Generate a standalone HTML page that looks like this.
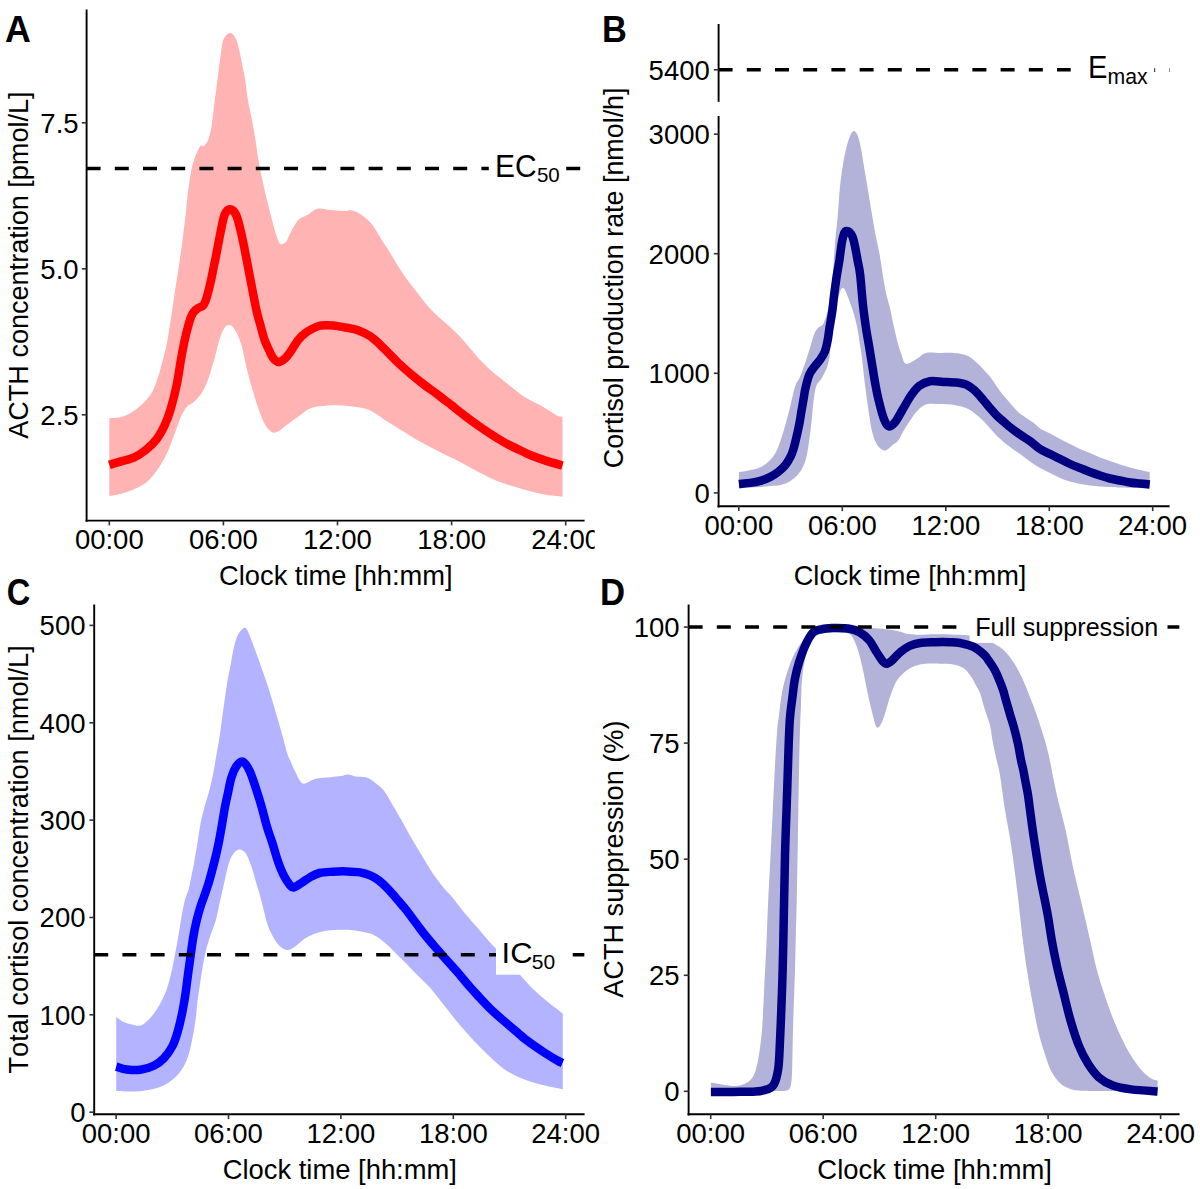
<!DOCTYPE html><html><head><meta charset="utf-8"><style>html,body{margin:0;padding:0;background:#fff;width:1200px;height:1189px;overflow:hidden}svg{display:block}text{font-family:"Liberation Sans",sans-serif;fill:#000;font-kerning:none}</style></head><body>
<svg width="1200" height="1189" viewBox="0 0 1200 1189">
<rect width="1200" height="1189" fill="#fff"/>
<clipPath id="clipA"><rect x="86.6" y="10.0" width="498.0" height="510.6"/></clipPath>
<g clip-path="url(#clipA)">
<path d="M109.3,418.2 C111.1,418.0 116.7,418.0 120.2,417.2 C123.7,416.4 126.9,415.1 130.3,413.2 C133.7,411.3 137.4,408.4 140.4,405.8 C143.4,403.2 146.1,400.7 148.4,397.6 C150.8,394.5 152.5,391.8 154.5,387.0 C156.5,382.2 158.5,375.9 160.5,368.8 C162.5,361.7 164.9,352.7 166.6,344.6 C168.3,336.5 169.4,327.8 170.6,320.4 C171.8,313.0 172.7,306.9 173.7,300.2 C174.7,293.5 175.5,287.7 176.7,280.0 C177.9,272.3 179.6,261.5 180.7,253.8 C181.8,246.1 182.5,240.3 183.3,233.6 C184.2,226.9 185.1,219.7 185.8,213.5 C186.5,207.3 186.7,203.3 187.5,196.6 C188.3,189.9 189.7,179.3 190.8,173.1 C191.9,166.9 193.1,163.2 194.2,159.6 C195.3,155.9 196.5,153.6 197.6,151.2 C198.7,148.8 199.9,146.1 200.9,145.3 C201.9,144.5 202.3,146.9 203.4,146.2 C204.5,145.5 206.4,143.9 207.7,141.1 C209.0,138.3 210.0,134.4 211.0,129.3 C212.0,124.3 212.7,117.2 213.5,110.8 C214.3,104.3 215.2,97.3 216.1,90.6 C216.9,83.9 217.8,76.9 218.6,70.5 C219.4,64.1 220.3,57.2 221.1,52.0 C221.9,46.8 222.2,42.4 223.6,39.3 C225.0,36.1 227.5,33.4 229.5,33.1 C231.5,32.8 233.7,34.6 235.4,37.7 C237.1,40.9 238.1,45.4 239.6,52.0 C241.1,58.6 243.3,69.1 244.7,77.2 C246.1,85.3 246.8,93.4 248.0,100.7 C249.2,108.0 250.9,114.2 252.2,120.9 C253.5,127.6 254.5,134.1 255.6,141.1 C256.7,148.1 257.8,156.6 258.9,163.0 C260.0,169.4 261.0,173.9 262.3,179.8 C263.6,185.7 264.9,191.9 266.5,198.3 C268.1,204.8 270.1,212.6 271.6,218.5 C273.2,224.4 274.4,229.4 275.8,233.6 C277.2,237.8 278.3,242.3 280.0,243.7 C281.7,245.1 284.2,243.7 285.9,242.0 C287.6,240.3 288.8,236.2 290.1,233.6 C291.5,231.0 292.4,228.8 294.0,226.3 C295.6,223.9 297.1,220.8 299.4,218.9 C301.6,217.0 304.4,216.6 307.5,214.9 C310.6,213.2 314.5,209.4 318.3,208.6 C322.1,207.8 325.9,209.5 330.4,209.9 C334.9,210.3 341.8,210.9 345.2,210.9 C348.6,210.9 348.4,209.9 350.6,210.2 C352.8,210.5 355.9,211.4 358.6,212.9 C361.3,214.4 364.2,216.7 366.7,218.9 C369.2,221.1 370.9,222.8 373.4,226.3 C375.9,229.8 378.8,235.5 381.5,239.8 C384.2,244.1 386.9,247.6 389.6,251.9 C392.3,256.2 394.8,260.8 397.7,265.4 C400.6,270.0 403.7,274.8 407.1,279.5 C410.5,284.2 414.3,289.0 417.9,293.6 C421.5,298.2 425.2,303.3 428.6,307.1 C432.0,310.9 434.3,313.1 438.0,316.5 C441.7,319.9 446.2,323.4 450.6,327.5 C455.0,331.6 459.6,336.2 464.1,341.2 C468.6,346.1 473.1,352.3 477.6,357.2 C482.1,362.1 486.0,366.1 491.0,370.6 C496.0,375.1 502.5,379.9 507.8,384.1 C513.1,388.3 517.7,392.4 523.0,395.9 C528.3,399.4 534.2,401.9 539.8,405.1 C545.4,408.3 552.8,413.2 556.6,415.2 C560.4,417.2 561.5,416.6 562.5,416.9 L562.5,496.8 C559.3,496.4 549.8,495.6 543.2,494.3 C536.6,493.0 530.0,491.2 523.0,489.2 C516.0,487.2 508.1,485.1 501.1,482.5 C494.1,479.9 487.9,476.8 480.9,473.3 C473.9,469.8 466.7,465.4 459.1,461.5 C451.5,457.6 443.1,453.6 435.5,449.7 C427.9,445.8 420.6,442.0 413.6,437.9 C406.6,433.8 398.1,428.1 393.5,425.3 C388.9,422.5 388.9,422.7 386.0,420.8 C383.1,418.9 379.3,415.8 375.9,413.8 C372.5,411.8 370.0,410.0 365.8,408.7 C361.6,407.4 355.8,406.8 350.7,406.2 C345.6,405.6 340.6,405.2 335.5,405.2 C330.4,405.2 324.6,405.7 320.4,406.2 C316.2,406.7 313.7,406.7 310.3,408.2 C306.9,409.7 303.8,412.5 300.0,415.2 C296.2,417.9 291.1,421.8 287.7,424.3 C284.3,426.8 282.1,429.0 279.6,430.4 C277.1,431.8 275.0,433.2 272.6,432.4 C270.2,431.5 267.7,428.8 265.5,425.3 C263.3,421.8 261.4,416.6 259.4,411.2 C257.4,405.8 255.4,399.7 253.4,393.0 C251.4,386.3 249.3,378.9 247.3,370.8 C245.3,362.7 243.5,351.7 241.3,344.6 C239.1,337.5 236.6,331.6 234.2,328.4 C231.8,325.2 229.3,324.4 227.1,325.4 C224.9,326.4 223.1,329.3 221.1,334.5 C219.1,339.7 217.0,349.6 215.0,356.7 C213.0,363.8 211.0,371.2 209.0,376.9 C207.0,382.6 205.2,387.0 202.9,391.0 C200.6,395.0 197.6,398.4 194.9,401.1 C192.2,403.8 189.2,404.4 186.8,407.1 C184.4,409.8 182.7,412.8 180.7,417.2 C178.7,421.6 176.7,428.0 174.7,433.4 C172.7,438.8 170.6,444.8 168.6,449.5 C166.6,454.2 164.9,457.6 162.6,461.6 C160.2,465.6 157.5,470.0 154.5,473.7 C151.5,477.4 148.1,481.1 144.4,483.8 C140.7,486.5 136.3,488.2 132.3,489.9 C128.3,491.6 124.0,492.9 120.2,493.9 C116.4,494.9 111.1,495.6 109.3,496.0 Z" fill="#FFB3B3" stroke="none"/>
<rect x="489.0" y="150.0" width="77.0" height="37.0" fill="#fff"/>
<path d="M109.3,464.9 C111.1,464.3 116.0,462.9 120.2,461.6 C124.4,460.3 129.9,459.3 134.3,457.3 C138.7,455.3 142.7,452.5 146.4,449.5 C150.1,446.5 153.5,443.4 156.5,439.4 C159.5,435.4 162.2,430.3 164.6,425.3 C166.9,420.3 168.6,415.9 170.6,409.2 C172.6,402.5 175.0,393.2 176.7,385.0 C178.4,376.8 179.6,367.4 180.9,360.0 C182.2,352.6 183.4,346.1 184.6,340.6 C185.8,335.1 186.8,331.0 187.9,327.1 C189.0,323.2 190.0,319.6 191.0,317.0 C192.0,314.4 192.7,313.2 193.8,311.8 C194.9,310.4 196.1,309.3 197.7,308.3 C199.2,307.3 201.8,307.0 203.1,305.6 C204.4,304.2 205.0,302.2 205.8,300.2 C206.6,298.2 206.9,296.9 207.8,293.5 C208.7,290.1 210.2,284.2 211.1,280.0 C212.0,275.8 212.7,272.1 213.5,268.0 C214.3,263.9 215.0,261.2 216.1,255.5 C217.2,249.8 218.9,240.3 220.3,233.6 C221.7,226.9 222.9,219.1 224.5,215.1 C226.1,211.1 228.0,209.3 229.9,209.3 C231.8,209.3 234.3,211.1 236.2,215.1 C238.1,219.1 239.8,227.1 241.3,233.6 C242.9,240.1 244.1,246.8 245.5,253.8 C246.9,260.8 247.9,266.3 249.7,275.7 C251.5,285.1 254.6,301.8 256.4,310.0 C258.2,318.2 259.0,320.1 260.4,325.1 C261.8,330.2 263.2,336.1 264.7,340.3 C266.2,344.5 268.1,347.9 269.2,350.4 C270.3,352.9 270.6,353.8 271.5,355.4 C272.4,357.0 273.5,358.9 274.8,360.0 C276.1,361.1 277.5,362.3 279.3,362.0 C281.1,361.7 283.5,359.9 285.4,358.2 C287.2,356.5 288.7,354.3 290.4,351.9 C292.1,349.5 294.1,345.9 295.5,343.8 C296.9,341.8 296.9,341.4 298.5,339.6 C300.1,337.8 303.0,334.9 305.2,333.2 C307.4,331.4 309.6,330.3 311.9,329.1 C314.1,327.9 316.5,326.6 318.7,326.0 C320.9,325.4 322.6,325.3 325.0,325.2 C327.4,325.1 329.9,325.1 333.0,325.4 C336.1,325.7 339.8,326.4 343.8,327.2 C347.9,327.9 352.8,328.3 357.3,329.9 C361.8,331.5 366.2,333.5 370.7,336.6 C375.2,339.7 379.7,344.4 384.2,348.7 C388.7,353.0 393.1,357.9 397.6,362.2 C402.1,366.5 406.6,370.5 411.1,374.3 C415.6,378.1 420.0,381.6 424.5,385.0 C429.0,388.4 433.5,391.4 438.0,394.8 C442.5,398.2 446.9,401.7 451.4,405.2 C455.9,408.7 460.4,412.4 464.9,415.8 C469.4,419.2 473.8,422.4 478.3,425.6 C482.8,428.8 487.3,431.9 491.8,434.8 C496.3,437.7 500.7,440.4 505.2,442.9 C509.7,445.4 514.2,447.5 518.7,449.6 C523.2,451.8 527.6,454.0 532.1,455.8 C536.6,457.6 540.5,459.0 545.6,460.6 C550.7,462.2 559.7,464.7 562.5,465.5" fill="none" stroke="#FF0000" stroke-width="8.5" stroke-linejoin="round" stroke-linecap="butt"/>
<line x1="86.6" y1="168.4" x2="488.8" y2="168.4" stroke="#000" stroke-width="3.5" stroke-dasharray="14 14.2"/>
<line x1="566.2" y1="168.4" x2="584.6" y2="168.4" stroke="#000" stroke-width="3.5" stroke-dasharray="14 14.2"/>
<text x="495.04" y="177.00" font-size="31.25" textLength="41.60" lengthAdjust="spacingAndGlyphs">EC</text>
<text x="536.98" y="182.30" font-size="20.80" textLength="22.82" lengthAdjust="spacingAndGlyphs">50</text>
</g>
<line x1="86.6" y1="9.5" x2="86.6" y2="521.7" stroke="#000" stroke-width="1.9"/>
<line x1="85.6" y1="520.6" x2="584.6" y2="520.6" stroke="#000" stroke-width="1.9"/>
<line x1="81.8" y1="122.8" x2="86.6" y2="122.8" stroke="#333" stroke-width="1.6"/>
<text x="78.6" y="132.7" font-size="27.5" text-anchor="end" >7.5</text>
<line x1="81.8" y1="268.8" x2="86.6" y2="268.8" stroke="#333" stroke-width="1.6"/>
<text x="78.6" y="278.7" font-size="27.5" text-anchor="end" >5.0</text>
<line x1="81.8" y1="414.8" x2="86.6" y2="414.8" stroke="#333" stroke-width="1.6"/>
<text x="78.6" y="424.7" font-size="27.5" text-anchor="end" >2.5</text>
<clipPath id="xlA"><rect x="0" y="0" width="594.7" height="1189"/></clipPath><g clip-path="url(#xlA)">
<line x1="109.3" y1="520.6" x2="109.3" y2="525.4" stroke="#333" stroke-width="1.6"/>
<text x="109.3" y="549.0" font-size="27.5" text-anchor="middle" >00:00</text>
<line x1="223.4" y1="520.6" x2="223.4" y2="525.4" stroke="#333" stroke-width="1.6"/>
<text x="223.4" y="549.0" font-size="27.5" text-anchor="middle" >06:00</text>
<line x1="337.5" y1="520.6" x2="337.5" y2="525.4" stroke="#333" stroke-width="1.6"/>
<text x="337.5" y="549.0" font-size="27.5" text-anchor="middle" >12:00</text>
<line x1="451.6" y1="520.6" x2="451.6" y2="525.4" stroke="#333" stroke-width="1.6"/>
<text x="451.6" y="549.0" font-size="27.5" text-anchor="middle" >18:00</text>
<line x1="565.7" y1="520.6" x2="565.7" y2="525.4" stroke="#333" stroke-width="1.6"/>
<text x="565.7" y="549.0" font-size="27.5" text-anchor="middle" >24:00</text>
</g>
<clipPath id="clipB"><rect x="718.6" y="20.0" width="451.0" height="486.3"/></clipPath>
<g clip-path="url(#clipB)">
<path d="M738.9,472.3 C739.9,472.1 742.5,471.8 745.1,471.3 C747.7,470.8 751.3,470.1 754.2,469.3 C757.1,468.5 759.9,467.6 762.3,466.3 C764.6,465.0 766.3,463.6 768.3,461.7 C770.3,459.8 772.7,457.2 774.4,454.7 C776.1,452.2 777.0,450.0 778.4,446.6 C779.8,443.2 781.2,438.5 782.5,434.5 C783.8,430.5 784.8,426.6 786.0,422.4 C787.2,418.2 788.4,413.7 789.5,409.3 C790.6,404.9 791.6,400.2 792.6,396.1 C793.6,392.1 794.4,388.2 795.6,385.0 C796.8,381.8 798.6,380.2 800.0,377.1 C801.4,374.0 802.7,370.1 804.0,366.3 C805.3,362.5 806.6,358.5 808.0,354.2 C809.4,349.9 811.0,344.3 812.1,340.7 C813.2,337.1 813.7,334.9 814.8,332.7 C815.9,330.5 817.4,328.6 818.8,327.3 C820.1,326.0 821.5,326.9 822.9,324.6 C824.2,322.4 825.8,317.8 826.9,313.8 C828.0,309.8 828.7,306.0 829.6,300.4 C830.5,294.8 831.5,290.0 832.4,280.1 C833.3,270.2 834.3,252.1 835.2,241.1 C836.1,230.1 837.1,223.2 837.9,214.2 C838.7,205.2 839.1,195.2 839.9,187.3 C840.7,179.5 841.6,173.4 842.6,167.1 C843.6,160.8 844.7,154.8 845.9,149.6 C847.1,144.4 848.7,139.2 850.0,136.1 C851.3,133.0 852.5,131.2 853.7,131.0 C854.9,130.8 856.2,132.2 857.4,134.8 C858.6,137.5 859.6,141.5 860.7,146.9 C861.8,152.3 863.0,160.4 864.1,167.1 C865.2,173.8 866.3,179.9 867.5,187.3 C868.7,194.7 870.2,203.7 871.5,211.5 C872.8,219.3 874.1,227.2 875.5,234.4 C876.9,241.6 878.2,247.0 879.6,254.6 C881.0,262.2 882.5,273.3 883.6,280.0 C884.8,286.7 885.4,290.3 886.5,295.0 C887.6,299.7 888.8,303.0 890.0,308.0 C891.2,313.0 892.3,319.7 893.5,325.0 C894.7,330.3 895.8,335.3 897.0,340.0 C898.2,344.7 899.5,349.1 901.0,353.0 C902.5,356.9 903.2,362.7 905.8,363.7 C908.4,364.7 913.1,360.8 916.5,359.0 C919.9,357.2 921.9,354.0 925.9,353.0 C929.9,352.0 936.0,353.0 940.7,353.0 C945.4,353.0 949.9,352.6 954.2,353.0 C958.5,353.4 962.7,353.9 966.3,355.3 C969.9,356.8 972.8,359.3 975.7,361.7 C978.6,364.1 981.1,366.9 983.8,369.8 C986.5,372.7 989.1,375.6 991.9,379.2 C994.6,382.8 997.8,388.0 1000.3,391.4 C1002.8,394.8 1004.2,396.2 1007.0,399.5 C1009.8,402.8 1014.3,408.2 1017.1,411.0 C1019.9,413.8 1021.0,414.3 1023.8,416.3 C1026.6,418.3 1031.2,421.1 1033.9,423.1 C1036.6,425.1 1037.3,426.8 1040.0,428.5 C1042.7,430.2 1046.7,431.8 1050.0,433.5 C1053.3,435.2 1056.7,437.2 1060.0,439.0 C1063.3,440.8 1066.7,442.3 1070.0,444.0 C1073.3,445.7 1076.7,447.5 1080.0,449.0 C1083.3,450.5 1086.7,451.6 1090.0,453.0 C1093.3,454.4 1096.7,456.2 1100.0,457.5 C1103.3,458.8 1106.7,459.8 1110.0,461.0 C1113.3,462.2 1116.7,463.4 1120.0,464.5 C1123.3,465.6 1126.7,466.6 1130.0,467.5 C1133.3,468.4 1136.7,469.2 1140.0,470.0 C1143.3,470.8 1148.1,471.7 1149.7,472.0 L1149.7,488.5 C1144.8,488.3 1126.6,487.8 1120.0,487.5 C1113.4,487.2 1113.3,487.2 1110.0,487.0 C1106.7,486.8 1103.3,486.8 1100.0,486.5 C1096.7,486.2 1093.3,485.9 1090.0,485.5 C1086.7,485.1 1083.3,484.7 1080.0,484.0 C1076.7,483.3 1073.3,482.5 1070.0,481.5 C1066.7,480.5 1063.3,479.4 1060.0,478.0 C1056.7,476.6 1053.3,474.7 1050.0,473.0 C1046.7,471.3 1043.3,469.9 1040.0,468.0 C1036.7,466.1 1032.7,463.4 1030.0,461.5 C1027.3,459.6 1026.0,458.3 1023.8,456.7 C1021.6,455.1 1019.3,453.6 1017.1,452.0 C1014.9,450.4 1012.6,449.0 1010.4,447.3 C1008.1,445.6 1005.9,443.8 1003.6,441.9 C1001.4,440.0 999.1,438.1 996.9,435.9 C994.7,433.7 992.4,431.0 990.2,428.5 C988.0,426.0 985.8,423.2 983.5,421.0 C981.2,418.8 979.3,417.0 976.7,415.0 C974.1,413.0 971.5,410.5 967.7,408.8 C964.0,407.1 958.7,405.8 954.2,405.0 C949.7,404.2 945.2,404.2 940.7,404.1 C936.2,404.0 931.1,403.1 927.3,404.1 C923.5,405.1 920.8,407.4 917.9,410.2 C915.0,413.0 912.3,417.3 909.8,420.9 C907.3,424.5 905.1,428.3 903.1,431.7 C901.1,435.1 899.5,438.9 897.7,441.1 C895.9,443.4 894.4,443.6 892.3,445.2 C890.2,446.8 887.4,450.5 884.9,450.5 C882.4,450.5 879.6,448.3 877.5,445.2 C875.4,442.1 873.7,438.0 872.1,431.7 C870.5,425.4 869.4,416.1 868.1,407.5 C866.8,398.9 865.4,388.2 864.4,380.0 C863.4,371.8 862.8,364.3 862.0,358.0 C861.2,351.7 860.3,347.1 859.5,342.0 C858.7,336.9 858.2,332.0 857.2,327.3 C856.2,322.6 854.8,317.4 853.8,313.8 C852.8,310.2 852.2,308.9 851.1,305.8 C850.0,302.7 848.3,297.9 847.1,295.0 C845.9,292.1 844.8,289.0 843.7,288.3 C842.6,287.6 841.5,287.9 840.3,291.0 C839.1,294.1 837.6,301.1 836.3,307.1 C835.0,313.2 833.3,320.6 832.3,327.3 C831.3,334.0 830.8,342.6 830.3,347.5 C829.8,352.4 830.2,353.5 829.6,356.9 C829.0,360.3 828.2,364.1 826.9,367.7 C825.5,371.3 823.3,375.3 821.5,378.4 C819.7,381.5 817.5,382.4 816.1,386.5 C814.7,390.6 814.0,397.4 813.3,403.0 C812.6,408.6 812.3,414.8 811.7,420.4 C811.1,426.0 810.4,431.5 809.7,436.5 C809.0,441.5 808.5,446.2 807.7,450.6 C806.9,455.0 806.2,458.8 804.7,462.7 C803.2,466.6 801.0,470.8 798.6,473.8 C796.2,476.8 793.5,479.0 790.5,480.9 C787.5,482.8 783.9,484.1 780.5,485.0 C777.1,485.9 773.8,485.7 770.4,486.0 C767.0,486.3 765.5,486.6 760.3,487.0 C755.0,487.4 742.5,488.1 738.9,488.3 Z" fill="#B3B3D9" stroke="none"/>
<rect x="1070.7" y="50.0" width="84.0" height="38.0" fill="#fff"/>
<path d="M738.9,483.9 C740.8,483.7 746.6,483.4 750.2,482.9 C753.8,482.4 756.9,481.9 760.3,480.9 C763.7,479.9 767.4,478.4 770.4,476.9 C773.4,475.4 775.9,473.8 778.4,471.8 C780.9,469.8 783.5,467.3 785.5,464.8 C787.5,462.3 789.1,459.4 790.5,456.7 C791.9,454.0 792.6,452.0 793.6,448.6 C794.6,445.2 795.6,440.9 796.6,436.5 C797.6,432.1 798.8,426.8 799.6,422.4 C800.4,418.0 800.9,414.3 801.6,410.3 C802.3,406.3 803.1,401.9 803.7,398.2 C804.4,394.5 804.5,392.0 805.5,388.0 C806.5,384.0 807.9,378.0 809.4,374.4 C810.9,370.8 813.0,368.8 814.8,366.3 C816.6,363.8 818.5,362.1 820.2,359.6 C821.9,357.1 823.7,354.6 824.9,351.5 C826.1,348.4 826.8,344.7 827.6,340.7 C828.4,336.7 828.8,332.2 829.6,327.3 C830.4,322.4 831.5,316.7 832.3,311.1 C833.1,305.5 833.5,299.6 834.3,293.6 C835.1,287.6 836.0,280.5 836.9,275.0 C837.8,269.5 838.6,265.3 839.4,260.4 C840.1,255.4 840.8,249.4 841.4,245.3 C842.0,241.2 842.6,238.3 843.3,236.0 C844.0,233.7 844.6,232.1 845.5,231.3 C846.4,230.6 847.6,231.1 848.5,231.5 C849.4,231.9 850.3,233.0 851.0,234.0 C851.7,235.0 852.3,235.8 852.9,237.7 C853.5,239.6 854.0,241.5 854.8,245.3 C855.6,249.1 856.7,255.4 857.6,260.4 C858.5,265.3 859.3,267.2 860.2,275.0 C861.1,282.8 862.2,298.4 863.2,307.1 C864.2,315.8 864.9,320.6 865.9,327.3 C866.9,334.0 868.2,340.8 869.3,347.5 C870.4,354.2 871.6,361.4 872.6,367.7 C873.6,373.9 874.5,379.5 875.5,385.0 C876.5,390.5 877.3,394.9 878.8,400.7 C880.2,406.5 882.5,415.3 884.2,419.6 C885.9,423.9 887.1,425.9 888.9,426.3 C890.7,426.8 892.6,425.2 895.0,422.3 C897.4,419.4 900.4,413.3 903.1,408.8 C905.8,404.3 908.4,399.2 911.1,395.4 C913.8,391.6 916.1,388.3 919.2,385.9 C922.4,383.5 926.0,381.9 930.0,381.2 C934.0,380.5 938.9,381.7 943.4,381.9 C947.9,382.1 953.1,382.2 956.9,382.6 C960.7,383.1 963.4,383.3 966.3,384.6 C969.2,385.9 971.5,387.6 974.4,390.2 C977.3,392.8 980.9,397.2 983.5,400.2 C986.1,403.2 988.0,405.7 990.2,408.3 C992.4,410.9 994.7,413.5 996.9,415.7 C999.1,417.9 1001.4,419.7 1003.6,421.7 C1005.9,423.7 1008.1,425.7 1010.4,427.5 C1012.6,429.3 1014.9,430.9 1017.1,432.5 C1019.3,434.1 1021.5,435.5 1023.8,437.0 C1026.0,438.5 1027.9,439.5 1030.6,441.5 C1033.3,443.5 1036.8,446.9 1040.0,449.0 C1043.2,451.1 1046.7,452.3 1050.0,454.0 C1053.3,455.7 1056.7,457.3 1060.0,459.0 C1063.3,460.7 1066.7,462.5 1070.0,464.0 C1073.3,465.5 1076.7,466.7 1080.0,468.0 C1083.3,469.3 1086.7,470.8 1090.0,472.0 C1093.3,473.2 1096.7,474.4 1100.0,475.5 C1103.3,476.6 1106.7,477.7 1110.0,478.5 C1113.3,479.3 1116.7,479.8 1120.0,480.5 C1123.3,481.2 1126.7,482.0 1130.0,482.5 C1133.3,483.0 1136.7,483.2 1140.0,483.5 C1143.3,483.8 1148.1,484.3 1149.7,484.5" fill="none" stroke="#000080" stroke-width="8.5" stroke-linejoin="round" stroke-linecap="butt"/>
<line x1="718.6" y1="69.8" x2="1070.7" y2="69.8" stroke="#000" stroke-width="3.5" stroke-dasharray="14 14.2"/>
<text x="1087.91" y="78.30" font-size="31.10" textLength="19.44" lengthAdjust="spacingAndGlyphs">E</text>
<text x="1107.59" y="83.60" font-size="21.80" textLength="40.14" lengthAdjust="spacingAndGlyphs">max</text>
<rect x="1154" y="68.2" width="1.2" height="3.8" fill="#444"/>
<rect x="1169" y="68.2" width="1.2" height="3.8" fill="#444"/>
</g>
<line x1="718.6" y1="24.0" x2="718.6" y2="101.8" stroke="#000" stroke-width="1.9"/>
<line x1="718.6" y1="116.0" x2="718.6" y2="507.4" stroke="#000" stroke-width="1.9"/>
<line x1="717.6" y1="506.3" x2="1169.6" y2="506.3" stroke="#000" stroke-width="1.9"/>
<line x1="713.8" y1="69.8" x2="718.6" y2="69.8" stroke="#333" stroke-width="1.6"/>
<text x="709.8" y="79.7" font-size="27.5" text-anchor="end" >5400</text>
<line x1="713.8" y1="134.2" x2="718.6" y2="134.2" stroke="#333" stroke-width="1.6"/>
<text x="709.8" y="144.1" font-size="27.5" text-anchor="end" >3000</text>
<line x1="713.8" y1="253.7" x2="718.6" y2="253.7" stroke="#333" stroke-width="1.6"/>
<text x="709.8" y="263.6" font-size="27.5" text-anchor="end" >2000</text>
<line x1="713.8" y1="373.3" x2="718.6" y2="373.3" stroke="#333" stroke-width="1.6"/>
<text x="709.8" y="383.2" font-size="27.5" text-anchor="end" >1000</text>
<line x1="713.8" y1="492.9" x2="718.6" y2="492.9" stroke="#333" stroke-width="1.6"/>
<text x="709.8" y="502.8" font-size="27.5" text-anchor="end" >0</text>
<g>
<line x1="738.8" y1="506.3" x2="738.8" y2="511.1" stroke="#333" stroke-width="1.6"/>
<text x="738.8" y="534.8" font-size="27.5" text-anchor="middle" >00:00</text>
<line x1="842.3" y1="506.3" x2="842.3" y2="511.1" stroke="#333" stroke-width="1.6"/>
<text x="842.3" y="534.8" font-size="27.5" text-anchor="middle" >06:00</text>
<line x1="945.8" y1="506.3" x2="945.8" y2="511.1" stroke="#333" stroke-width="1.6"/>
<text x="945.8" y="534.8" font-size="27.5" text-anchor="middle" >12:00</text>
<line x1="1049.3" y1="506.3" x2="1049.3" y2="511.1" stroke="#333" stroke-width="1.6"/>
<text x="1049.3" y="534.8" font-size="27.5" text-anchor="middle" >18:00</text>
<line x1="1152.7" y1="506.3" x2="1152.7" y2="511.1" stroke="#333" stroke-width="1.6"/>
<text x="1152.7" y="534.8" font-size="27.5" text-anchor="middle" >24:00</text>
</g>
<clipPath id="clipC"><rect x="94.2" y="604.4" width="490.4" height="509.9"/></clipPath>
<g clip-path="url(#clipC)">
<path d="M116.2,1017.0 C117.4,1017.8 120.9,1020.8 123.5,1022.0 C126.1,1023.2 129.0,1023.9 131.9,1024.5 C134.8,1025.1 138.0,1026.5 141.1,1025.4 C144.2,1024.3 147.4,1021.0 150.4,1017.8 C153.4,1014.6 156.3,1010.2 158.8,1006.0 C161.3,1001.8 163.5,997.6 165.5,992.6 C167.5,987.6 169.0,981.9 170.6,975.7 C172.2,969.5 173.5,962.0 174.8,955.5 C176.1,949.0 177.1,943.5 178.2,937.0 C179.3,930.5 180.4,923.0 181.5,916.8 C182.6,910.6 183.7,904.5 184.9,900.0 C186.1,895.5 187.6,893.1 188.5,890.0 C189.4,886.9 189.4,886.0 190.4,881.1 C191.4,876.2 193.2,867.6 194.4,860.9 C195.6,854.2 196.7,847.4 197.8,840.7 C198.9,834.0 199.9,826.7 201.1,820.6 C202.3,814.5 203.8,809.3 205.2,804.4 C206.5,799.5 207.9,796.1 209.2,791.0 C210.5,785.9 212.0,779.6 213.2,773.5 C214.4,767.4 215.4,761.1 216.5,754.6 C217.6,748.1 218.9,741.1 219.9,734.4 C220.9,727.7 221.7,720.7 222.6,714.2 C223.5,707.7 224.4,701.5 225.3,695.4 C226.2,689.3 227.1,683.1 228.0,677.9 C228.9,672.7 229.7,669.6 230.7,664.4 C231.7,659.2 232.8,651.8 234.0,646.9 C235.2,642.0 236.2,638.0 238.0,634.8 C239.8,631.6 242.7,628.0 244.5,627.8 C246.3,627.6 247.0,629.6 248.8,633.5 C250.6,637.4 253.0,644.3 255.5,651.0 C258.0,657.7 261.1,666.6 263.6,673.8 C266.1,681.0 268.1,686.8 270.3,694.0 C272.6,701.2 275.1,709.9 277.1,716.9 C279.1,723.9 280.8,729.7 282.5,735.7 C284.2,741.8 285.9,749.2 287.2,753.2 C288.4,757.2 288.6,756.9 290.0,760.0 C291.4,763.1 293.3,768.2 295.4,772.1 C297.5,776.0 299.4,782.4 302.8,783.5 C306.2,784.6 311.0,779.8 315.6,778.8 C320.2,777.8 326.1,777.7 330.4,777.2 C334.6,776.8 338.2,776.6 341.1,776.1 C344.0,775.6 345.4,774.5 347.9,774.5 C350.4,774.5 352.8,775.9 355.9,776.4 C359.0,776.9 363.3,776.3 366.7,777.5 C370.1,778.7 373.2,781.2 376.1,783.5 C379.0,785.8 381.5,787.5 384.2,791.0 C386.9,794.5 389.4,799.5 392.3,804.4 C395.2,809.3 398.8,815.4 401.7,820.6 C404.6,825.8 407.1,830.7 409.8,835.4 C412.5,840.1 415.1,844.3 417.8,848.8 C420.5,853.3 423.0,857.6 425.9,862.3 C428.8,867.0 432.1,872.6 435.3,877.1 C438.5,881.6 442.1,885.9 444.8,889.2 C447.6,892.5 448.5,892.7 451.8,896.7 C455.1,900.7 460.5,908.1 464.8,913.3 C469.1,918.5 473.7,923.5 477.7,928.1 C481.7,932.7 485.8,937.7 488.8,941.1 C491.8,944.5 492.6,945.0 495.8,948.5 C499.0,952.0 503.9,957.5 508.0,962.0 C512.1,966.5 516.1,970.8 520.3,975.3 C524.5,979.8 528.6,984.7 533.2,989.2 C537.8,993.7 543.1,998.0 548.0,1002.1 C552.9,1006.2 560.3,1011.7 562.8,1013.6 L562.8,1089.3 C560.3,1088.8 552.9,1087.4 548.0,1086.3 C543.1,1085.2 538.1,1084.1 533.2,1082.6 C528.3,1081.0 523.3,1079.3 518.4,1077.0 C513.5,1074.7 508.5,1072.2 503.6,1068.7 C498.7,1065.2 493.7,1060.4 488.8,1055.8 C483.9,1051.2 478.9,1046.2 474.0,1041.0 C469.1,1035.8 464.1,1030.2 459.2,1024.3 C454.3,1018.4 449.3,1012.0 444.4,1005.8 C439.5,999.6 434.5,992.8 429.6,987.3 C424.7,981.8 418.9,976.7 414.8,972.5 C410.7,968.3 407.6,965.0 404.8,962.1 C402.0,959.2 400.5,957.9 398.0,955.4 C395.5,952.9 392.9,950.0 390.0,947.3 C387.1,944.6 383.6,941.5 380.5,939.2 C377.4,937.0 374.9,935.2 371.1,933.8 C367.3,932.4 362.2,931.6 357.7,930.9 C353.2,930.2 349.1,929.9 344.2,929.8 C339.3,929.7 333.0,929.8 328.1,930.5 C323.2,931.2 318.7,932.3 314.6,933.8 C310.6,935.2 306.9,937.2 303.8,939.2 C300.7,941.2 298.5,944.1 295.8,945.9 C293.1,947.7 290.4,950.0 287.7,950.0 C285.0,950.0 282.1,948.1 279.6,945.9 C277.1,943.6 274.9,940.1 272.9,936.5 C270.9,932.9 269.1,928.9 267.5,924.4 C265.9,919.9 264.9,914.8 263.5,909.6 C262.1,904.5 260.8,898.4 259.4,893.5 C258.0,888.6 256.8,884.8 255.4,880.0 C254.0,875.2 252.6,869.5 250.9,865.0 C249.2,860.5 247.5,855.5 245.5,852.9 C243.5,850.3 241.0,849.1 238.8,849.5 C236.6,849.9 233.9,852.7 232.1,855.5 C230.3,858.3 229.3,861.6 228.0,866.3 C226.7,871.0 225.3,878.0 224.0,883.8 C222.7,889.6 221.3,895.3 220.0,901.3 C218.7,907.3 217.4,914.6 215.9,920.0 C214.4,925.4 212.7,928.6 211.0,933.7 C209.3,938.8 207.3,944.9 205.9,950.5 C204.5,956.1 203.6,961.7 202.6,967.3 C201.6,972.9 200.8,978.5 200.0,984.1 C199.2,989.7 198.2,995.4 197.5,1001.0 C196.8,1006.6 196.6,1011.6 195.8,1017.8 C195.0,1024.0 193.9,1031.3 192.5,1038.0 C191.1,1044.7 189.7,1052.3 187.4,1058.2 C185.2,1064.1 182.4,1069.1 179.0,1073.3 C175.6,1077.5 171.7,1080.7 167.2,1083.4 C162.7,1086.1 157.4,1088.0 152.1,1089.3 C146.8,1090.6 141.2,1091.2 135.2,1091.5 C129.2,1091.8 119.4,1091.1 116.2,1091.0 Z" fill="#B3B3FF" stroke="none"/>
<rect x="496.0" y="935.0" width="70.0" height="39.7" fill="#fff"/>
<path d="M116.2,1066.6 C118.0,1067.1 122.8,1069.0 126.8,1069.5 C130.8,1070.0 135.8,1070.4 140.3,1069.8 C144.8,1069.2 149.9,1067.7 153.8,1065.8 C157.7,1063.9 160.8,1061.4 163.9,1058.2 C167.0,1055.0 170.1,1050.6 172.3,1046.4 C174.5,1042.2 175.8,1038.0 177.3,1033.0 C178.8,1028.0 180.2,1022.0 181.5,1016.1 C182.8,1010.2 183.9,1003.8 184.9,997.6 C185.9,991.4 186.6,985.3 187.4,979.1 C188.2,972.9 188.9,967.6 189.9,960.6 C190.9,953.6 192.2,943.7 193.3,937.0 C194.4,930.3 195.4,925.5 196.7,920.2 C198.0,914.9 199.8,908.8 201.0,905.0 C202.2,901.2 202.4,901.3 203.8,897.3 C205.2,893.3 207.4,887.2 209.2,881.1 C211.0,875.0 213.0,867.2 214.6,860.9 C216.2,854.6 217.4,849.4 218.6,843.4 C219.8,837.4 221.0,830.4 222.0,824.6 C223.0,818.8 223.7,813.8 224.7,808.4 C225.7,803.0 227.0,797.4 228.1,792.3 C229.2,787.1 230.1,781.8 231.4,777.5 C232.7,773.2 234.3,769.4 236.1,766.7 C237.9,764.0 240.1,760.8 242.3,761.5 C244.6,762.2 247.3,766.1 249.6,770.8 C251.9,775.5 254.3,783.5 256.3,789.6 C258.3,795.7 259.9,800.8 261.7,807.1 C263.5,813.4 265.3,821.2 267.1,827.3 C268.9,833.3 270.7,837.8 272.5,843.4 C274.3,849.0 276.0,855.7 277.8,860.9 C279.6,866.1 281.2,870.3 283.2,874.4 C285.2,878.5 288.2,883.0 290.0,885.2 C291.8,887.4 292.0,888.0 294.0,887.5 C296.0,887.0 299.4,884.2 302.1,882.5 C304.8,880.8 307.3,878.7 310.2,877.1 C313.1,875.5 315.8,873.9 319.6,873.0 C323.4,872.1 328.6,872.0 333.1,871.7 C337.6,871.4 342.0,871.3 346.5,871.4 C351.0,871.5 356.0,871.7 360.0,872.4 C364.0,873.1 367.6,874.4 370.7,875.7 C373.8,877.0 375.9,878.1 378.8,880.4 C381.7,882.6 385.1,885.9 388.2,889.2 C391.3,892.5 394.8,896.6 397.7,900.0 C400.6,903.4 402.8,905.8 405.7,909.4 C408.6,913.0 412.4,918.3 414.8,921.5 C417.2,924.7 418.3,926.2 420.0,928.5 C421.7,930.8 422.5,931.9 425.0,935.0 C427.5,938.1 431.4,942.8 435.1,947.0 C438.8,951.2 443.2,956.2 447.0,960.5 C450.8,964.8 454.2,968.4 458.0,972.8 C461.8,977.2 466.3,982.8 470.0,987.0 C473.7,991.2 476.7,994.4 480.0,998.0 C483.3,1001.6 486.1,1004.7 490.0,1008.5 C493.9,1012.3 499.0,1016.7 503.5,1020.6 C508.0,1024.5 513.3,1029.0 516.9,1032.1 C520.5,1035.2 522.8,1037.2 525.0,1039.0 C527.2,1040.8 527.3,1040.8 530.4,1043.0 C533.5,1045.2 539.3,1049.3 543.8,1052.2 C548.3,1055.1 554.2,1058.7 557.3,1060.5 C560.4,1062.3 561.6,1062.6 562.5,1063.0" fill="none" stroke="#0000FF" stroke-width="8.5" stroke-linejoin="round" stroke-linecap="butt"/>
<line x1="94.2" y1="954.7" x2="496.0" y2="954.7" stroke="#000" stroke-width="3.5" stroke-dasharray="14 14.2"/>
<line x1="572.7" y1="954.7" x2="584.6" y2="954.7" stroke="#000" stroke-width="3.5" stroke-dasharray="14 14.2"/>
<text x="501.55" y="962.70" font-size="29.50" textLength="30.93" lengthAdjust="spacingAndGlyphs">IC</text>
<text x="531.86" y="968.50" font-size="21.00" textLength="23.36" lengthAdjust="spacingAndGlyphs">50</text>
</g>
<line x1="94.2" y1="604.4" x2="94.2" y2="1115.4" stroke="#000" stroke-width="1.9"/>
<line x1="93.2" y1="1114.3" x2="584.6" y2="1114.3" stroke="#000" stroke-width="1.9"/>
<line x1="89.4" y1="1112.2" x2="94.2" y2="1112.2" stroke="#333" stroke-width="1.6"/>
<text x="85.5" y="1122.1" font-size="27.5" text-anchor="end" >0</text>
<line x1="89.4" y1="1014.8" x2="94.2" y2="1014.8" stroke="#333" stroke-width="1.6"/>
<text x="85.5" y="1024.7" font-size="27.5" text-anchor="end" >100</text>
<line x1="89.4" y1="917.5" x2="94.2" y2="917.5" stroke="#333" stroke-width="1.6"/>
<text x="85.5" y="927.4" font-size="27.5" text-anchor="end" >200</text>
<line x1="89.4" y1="820.1" x2="94.2" y2="820.1" stroke="#333" stroke-width="1.6"/>
<text x="85.5" y="830.0" font-size="27.5" text-anchor="end" >300</text>
<line x1="89.4" y1="722.8" x2="94.2" y2="722.8" stroke="#333" stroke-width="1.6"/>
<text x="85.5" y="732.7" font-size="27.5" text-anchor="end" >400</text>
<line x1="89.4" y1="625.4" x2="94.2" y2="625.4" stroke="#333" stroke-width="1.6"/>
<text x="85.5" y="635.3" font-size="27.5" text-anchor="end" >500</text>
<g>
<line x1="116.1" y1="1114.3" x2="116.1" y2="1119.1" stroke="#333" stroke-width="1.6"/>
<text x="116.1" y="1143.1" font-size="27.5" text-anchor="middle" >00:00</text>
<line x1="228.5" y1="1114.3" x2="228.5" y2="1119.1" stroke="#333" stroke-width="1.6"/>
<text x="228.5" y="1143.1" font-size="27.5" text-anchor="middle" >06:00</text>
<line x1="340.9" y1="1114.3" x2="340.9" y2="1119.1" stroke="#333" stroke-width="1.6"/>
<text x="340.9" y="1143.1" font-size="27.5" text-anchor="middle" >12:00</text>
<line x1="453.3" y1="1114.3" x2="453.3" y2="1119.1" stroke="#333" stroke-width="1.6"/>
<text x="453.3" y="1143.1" font-size="27.5" text-anchor="middle" >18:00</text>
<line x1="565.7" y1="1114.3" x2="565.7" y2="1119.1" stroke="#333" stroke-width="1.6"/>
<text x="565.7" y="1143.1" font-size="27.5" text-anchor="middle" >24:00</text>
</g>
<clipPath id="clipD"><rect x="688.6" y="604.4" width="491.0" height="509.9"/></clipPath>
<g clip-path="url(#clipD)">
<path d="M710.9,1082.6 C713.3,1083.0 720.9,1084.5 725.2,1085.1 C729.6,1085.7 733.4,1086.4 737.0,1086.0 C740.6,1085.6 744.3,1084.4 747.1,1082.6 C749.9,1080.8 752.1,1078.8 753.9,1075.0 C755.7,1071.2 757.0,1065.2 758.1,1059.9 C759.2,1054.6 759.9,1048.6 760.6,1043.0 C761.3,1037.4 761.8,1033.2 762.3,1026.2 C762.8,1019.2 763.2,1009.4 763.6,1001.0 C764.0,992.6 764.3,985.5 764.8,975.7 C765.3,965.9 766.0,953.9 766.5,942.1 C767.0,930.3 767.4,918.3 768.0,905.0 C768.6,891.7 769.4,877.6 770.2,862.1 C771.0,846.6 771.9,828.5 772.7,811.7 C773.5,794.9 774.5,774.8 775.2,761.2 C776.0,747.6 776.6,737.7 777.2,730.0 C777.8,722.3 778.2,721.2 779.0,715.0 C779.8,708.8 780.8,699.2 782.0,692.5 C783.2,685.8 784.8,680.2 786.5,674.5 C788.2,668.8 790.2,663.0 792.5,658.0 C794.8,653.0 797.2,648.5 800.0,644.5 C802.8,640.5 805.8,636.9 809.0,634.0 C812.2,631.1 816.0,628.7 819.5,627.3 C823.0,625.9 825.8,626.0 830.0,625.8 C834.2,625.5 840.5,625.7 845.0,625.8 C849.5,625.9 853.2,626.2 857.0,626.5 C860.8,626.8 863.2,627.3 867.5,627.7 C871.8,628.1 877.5,628.2 882.5,628.8 C887.5,629.3 893.2,630.1 897.5,631.0 C901.8,631.9 904.2,633.4 908.0,634.0 C911.8,634.6 915.5,634.7 920.0,634.8 C924.5,634.8 930.0,634.3 935.0,634.3 C940.0,634.3 944.4,634.3 950.0,634.5 C955.6,634.7 963.6,634.9 968.9,635.5 C974.2,636.1 977.8,636.7 982.0,638.0 C986.2,639.3 990.2,641.3 994.0,643.5 C997.8,645.7 1001.3,647.7 1004.6,651.0 C1007.9,654.3 1011.1,658.6 1014.0,663.1 C1016.9,667.6 1019.6,672.8 1022.1,677.9 C1024.6,683.0 1026.6,688.4 1028.8,694.0 C1031.0,699.6 1033.5,705.9 1035.5,711.5 C1037.5,717.1 1039.1,722.1 1040.9,727.7 C1042.7,733.3 1044.7,739.4 1046.3,745.2 C1047.9,751.0 1049.1,756.8 1050.3,762.6 C1051.5,768.4 1052.4,773.7 1053.7,780.0 C1055.0,786.3 1056.1,791.9 1058.1,800.3 C1060.1,808.7 1063.2,819.2 1065.7,830.6 C1068.2,842.0 1070.5,855.8 1073.3,868.4 C1076.1,881.0 1079.5,894.3 1082.3,906.2 C1085.1,918.1 1087.8,929.9 1090.1,940.0 C1092.4,950.1 1093.8,957.9 1096.1,966.9 C1098.4,975.9 1101.5,985.5 1104.2,993.8 C1106.9,1002.1 1109.4,1009.3 1112.3,1016.7 C1115.2,1024.1 1118.6,1031.7 1121.7,1038.2 C1124.8,1044.7 1127.7,1050.3 1131.1,1055.7 C1134.5,1061.1 1138.5,1066.7 1141.9,1070.5 C1145.3,1074.3 1148.7,1076.9 1151.3,1078.6 C1153.9,1080.3 1156.5,1080.3 1157.6,1080.6 L1157.6,1091.3 C1148.7,1091.2 1116.2,1091.1 1104.2,1091.0 C1092.2,1090.9 1090.8,1091.0 1085.4,1090.7 C1080.0,1090.4 1076.0,1090.5 1071.9,1089.4 C1067.9,1088.3 1064.5,1086.9 1061.1,1084.0 C1057.7,1081.1 1054.4,1076.8 1051.7,1071.9 C1049.0,1067.0 1047.2,1061.1 1045.0,1054.4 C1042.8,1047.7 1040.3,1039.8 1038.3,1031.5 C1036.3,1023.2 1034.7,1014.2 1032.9,1004.6 C1031.1,995.0 1029.2,984.4 1027.5,973.6 C1025.8,962.8 1024.5,953.8 1022.8,940.0 C1021.1,926.2 1019.1,906.8 1017.2,891.1 C1015.3,875.4 1013.2,859.2 1011.2,845.7 C1009.2,832.2 1006.9,821.8 1005.0,810.0 C1003.1,798.2 1001.4,783.5 1000.0,775.2 C998.6,766.9 997.9,765.8 996.6,760.0 C995.4,754.2 993.6,746.2 992.5,740.4 C991.4,734.6 991.2,730.3 990.0,725.2 C988.8,720.1 986.7,715.4 985.0,710.0 C983.3,704.6 981.5,696.9 980.0,692.9 C978.5,688.9 977.8,688.6 976.3,685.9 C974.8,683.2 973.0,679.4 971.0,676.5 C969.0,673.6 967.1,670.4 964.2,668.4 C961.3,666.4 957.5,665.2 953.5,664.4 C949.5,663.6 945.1,663.8 940.0,663.7 C934.9,663.6 927.6,663.5 923.0,664.0 C918.4,664.5 915.8,665.5 912.5,667.0 C909.2,668.5 906.2,670.5 903.5,673.0 C900.8,675.5 898.2,678.0 896.0,682.0 C893.8,686.0 891.8,692.0 890.0,697.0 C888.2,702.0 887.0,707.5 885.5,712.0 C884.0,716.5 882.5,721.5 881.0,724.0 C879.5,726.5 878.0,729.0 876.5,727.0 C875.0,725.0 873.5,717.8 872.0,712.0 C870.5,706.2 869.0,699.5 867.5,692.5 C866.0,685.5 864.5,676.8 863.0,670.0 C861.5,663.2 860.0,657.0 858.5,652.0 C857.0,647.0 855.5,643.0 854.0,640.0 C852.5,637.0 851.5,635.2 849.5,634.0 C847.5,632.8 845.2,632.8 842.0,632.5 C838.8,632.2 833.8,632.2 830.0,632.5 C826.2,632.8 822.5,632.8 819.5,634.0 C816.5,635.2 814.2,636.5 812.0,640.0 C809.8,643.5 807.6,648.8 806.0,655.0 C804.4,661.2 803.1,669.2 802.2,677.5 C801.4,685.8 801.3,697.1 801.0,705.0 C800.7,712.9 800.5,715.6 800.2,725.0 C799.9,734.4 799.6,742.6 799.2,761.2 C798.8,779.9 798.3,813.8 797.9,836.9 C797.5,860.0 797.1,883.9 796.8,900.0 C796.5,916.1 796.2,922.5 795.9,933.7 C795.6,944.9 795.4,956.1 795.1,967.3 C794.8,978.5 794.3,989.8 793.9,1001.0 C793.5,1012.2 793.2,1023.4 792.9,1034.6 C792.6,1045.8 792.5,1059.9 792.2,1068.3 C791.9,1076.7 791.7,1081.4 790.9,1085.1 C790.1,1088.8 790.0,1089.2 787.5,1090.2 C785.0,1091.2 783.6,1090.8 775.7,1091.0 C767.8,1091.2 750.8,1091.4 740.0,1091.5 C729.2,1091.6 715.8,1091.5 710.9,1091.5 Z" fill="#B3B3D9" stroke="none"/>
<rect x="969.6" y="611.3" width="197.9" height="31.6" fill="#fff"/>
<path d="M710.9,1091.9 C714.7,1091.9 726.3,1092.0 733.7,1091.9 C741.1,1091.8 749.9,1091.9 755.5,1091.5 C761.1,1091.1 764.2,1090.5 767.3,1089.3 C770.4,1088.1 772.2,1087.8 774.0,1084.3 C775.8,1080.8 777.3,1075.2 778.3,1068.3 C779.3,1061.4 779.4,1052.8 779.9,1043.0 C780.4,1033.2 780.9,1020.6 781.3,1009.4 C781.7,998.2 782.2,986.9 782.5,975.7 C782.8,964.5 782.9,962.0 783.3,942.1 C783.7,922.2 784.5,878.3 785.0,856.4 C785.5,834.5 786.0,826.0 786.5,810.9 C787.0,795.8 787.5,780.6 788.0,765.5 C788.5,750.4 789.0,731.6 789.8,720.0 C790.6,708.4 791.8,702.6 792.6,695.7 C793.5,688.9 793.8,684.5 794.9,678.9 C796.0,673.3 797.4,667.7 799.1,662.1 C800.9,656.5 803.1,650.1 805.4,645.2 C807.7,640.3 810.4,635.2 813.0,632.6 C815.6,630.0 818.2,630.0 821.0,629.3 C823.8,628.6 827.8,628.4 830.0,628.2 C832.2,628.0 831.2,627.9 834.5,628.0 C837.8,628.1 845.2,628.0 849.5,628.8 C853.8,629.5 856.8,630.6 860.0,632.5 C863.2,634.4 866.2,636.8 869.0,640.0 C871.8,643.2 874.2,648.5 876.5,652.0 C878.8,655.5 880.8,659.0 882.5,661.0 C884.2,663.0 885.2,664.0 887.0,663.7 C888.8,663.5 890.8,661.5 893.0,659.5 C895.2,657.5 897.8,654.2 900.5,652.0 C903.2,649.8 906.2,647.5 909.5,646.0 C912.8,644.5 915.8,643.6 920.0,643.0 C924.2,642.4 930.0,642.4 935.0,642.2 C940.0,642.1 945.8,642.1 950.0,642.2 C954.2,642.3 956.3,642.2 960.2,643.0 C964.1,643.8 969.6,644.9 973.6,646.9 C977.6,648.9 982.0,652.8 984.4,655.0 C986.8,657.2 986.5,657.6 988.3,660.1 C990.0,662.6 993.0,666.8 994.9,670.2 C996.8,673.6 998.0,676.9 999.4,680.3 C1000.8,683.7 1002.1,687.0 1003.2,690.4 C1004.3,693.8 1004.8,696.4 1006.0,700.5 C1007.2,704.6 1008.8,710.1 1010.2,715.1 C1011.7,720.1 1013.4,725.2 1014.7,730.3 C1016.1,735.3 1017.2,740.4 1018.3,745.4 C1019.3,750.4 1020.2,755.9 1021.0,760.0 C1021.8,764.1 1022.6,766.6 1023.3,770.0 C1024.0,773.4 1024.4,776.1 1025.2,780.3 C1026.0,784.5 1027.2,790.0 1028.0,795.0 C1028.8,800.0 1029.0,802.8 1030.0,810.0 C1031.0,817.2 1032.2,827.1 1033.9,838.1 C1035.6,849.1 1037.7,863.4 1040.0,876.0 C1042.3,888.6 1045.5,903.1 1047.5,913.8 C1049.5,924.5 1050.1,931.1 1051.7,940.0 C1053.3,948.9 1055.1,957.9 1057.1,966.9 C1059.1,975.9 1061.5,984.8 1063.8,993.8 C1066.0,1002.8 1068.1,1012.2 1070.6,1020.7 C1073.1,1029.2 1075.7,1037.8 1078.6,1045.0 C1081.5,1052.2 1084.7,1058.4 1088.1,1063.8 C1091.5,1069.2 1094.8,1073.7 1098.8,1077.3 C1102.8,1080.9 1106.9,1083.3 1112.3,1085.3 C1117.7,1087.3 1123.5,1088.4 1131.1,1089.4 C1138.6,1090.4 1153.2,1091.1 1157.6,1091.4" fill="none" stroke="#000080" stroke-width="8.5" stroke-linejoin="round" stroke-linecap="butt"/>
<line x1="688.6" y1="627.1" x2="969.6" y2="627.1" stroke="#000" stroke-width="3.5" stroke-dasharray="14 14.2"/>
<line x1="1167.5" y1="627.1" x2="1179.6" y2="627.1" stroke="#000" stroke-width="3.5" stroke-dasharray="14 14.2"/>
<text x="975.24" y="636.40" font-size="26.20" textLength="183.10" lengthAdjust="spacingAndGlyphs">Full suppression</text>
</g>
<line x1="688.6" y1="604.4" x2="688.6" y2="1115.4" stroke="#000" stroke-width="1.9"/>
<line x1="687.6" y1="1114.3" x2="1179.6" y2="1114.3" stroke="#000" stroke-width="1.9"/>
<line x1="683.8" y1="1091.3" x2="688.6" y2="1091.3" stroke="#333" stroke-width="1.6"/>
<text x="679.6" y="1101.2" font-size="27.5" text-anchor="end" >0</text>
<line x1="683.8" y1="975.3" x2="688.6" y2="975.3" stroke="#333" stroke-width="1.6"/>
<text x="679.6" y="985.2" font-size="27.5" text-anchor="end" >25</text>
<line x1="683.8" y1="859.2" x2="688.6" y2="859.2" stroke="#333" stroke-width="1.6"/>
<text x="679.6" y="869.1" font-size="27.5" text-anchor="end" >50</text>
<line x1="683.8" y1="743.1" x2="688.6" y2="743.1" stroke="#333" stroke-width="1.6"/>
<text x="679.6" y="753.0" font-size="27.5" text-anchor="end" >75</text>
<line x1="683.8" y1="627.1" x2="688.6" y2="627.1" stroke="#333" stroke-width="1.6"/>
<text x="679.6" y="637.0" font-size="27.5" text-anchor="end" >100</text>
<g>
<line x1="710.7" y1="1114.3" x2="710.7" y2="1119.1" stroke="#333" stroke-width="1.6"/>
<text x="710.7" y="1143.1" font-size="27.5" text-anchor="middle" >00:00</text>
<line x1="823.2" y1="1114.3" x2="823.2" y2="1119.1" stroke="#333" stroke-width="1.6"/>
<text x="823.2" y="1143.1" font-size="27.5" text-anchor="middle" >06:00</text>
<line x1="935.7" y1="1114.3" x2="935.7" y2="1119.1" stroke="#333" stroke-width="1.6"/>
<text x="935.7" y="1143.1" font-size="27.5" text-anchor="middle" >12:00</text>
<line x1="1048.1" y1="1114.3" x2="1048.1" y2="1119.1" stroke="#333" stroke-width="1.6"/>
<text x="1048.1" y="1143.1" font-size="27.5" text-anchor="middle" >18:00</text>
<line x1="1160.6" y1="1114.3" x2="1160.6" y2="1119.1" stroke="#333" stroke-width="1.6"/>
<text x="1160.6" y="1143.1" font-size="27.5" text-anchor="middle" >24:00</text>
</g>
<text x="5.11" y="41.50" font-size="36.00" font-weight="bold" textLength="25.83" lengthAdjust="spacingAndGlyphs">A</text>
<text x="27.75" y="438.75" font-size="27.00" textLength="347.28" lengthAdjust="spacingAndGlyphs" transform="rotate(-90 27.75 438.75)">ACTH concentration [pmol/L]</text>
<text x="219.01" y="584.70" font-size="27.30" textLength="233.68" lengthAdjust="spacingAndGlyphs">Clock time [hh:mm]</text>
<text x="601.90" y="41.50" font-size="36.00" font-weight="bold" textLength="24.87" lengthAdjust="spacingAndGlyphs">B</text>
<text x="623.00" y="468.26" font-size="27.00" textLength="380.78" lengthAdjust="spacingAndGlyphs" transform="rotate(-90 623.00 468.26)">Cortisol production rate [nmol/h]</text>
<text x="793.72" y="584.90" font-size="27.30" textLength="232.62" lengthAdjust="spacingAndGlyphs">Clock time [hh:mm]</text>
<text x="6.76" y="604.80" font-size="36.00" font-weight="bold" textLength="23.53" lengthAdjust="spacingAndGlyphs">C</text>
<text x="27.75" y="1073.51" font-size="27.00" textLength="428.19" lengthAdjust="spacingAndGlyphs" transform="rotate(-90 27.75 1073.51)">Total cortisol concentration [nmol/L]</text>
<text x="222.71" y="1179.00" font-size="27.30" textLength="234.24" lengthAdjust="spacingAndGlyphs">Clock time [hh:mm]</text>
<text x="599.88" y="605.00" font-size="36.00" font-weight="bold" textLength="25.08" lengthAdjust="spacingAndGlyphs">D</text>
<text x="623.00" y="997.75" font-size="27.00" textLength="277.23" lengthAdjust="spacingAndGlyphs" transform="rotate(-90 623.00 997.75)">ACTH suppression (%)</text>
<text x="817.36" y="1179.00" font-size="27.30" textLength="234.60" lengthAdjust="spacingAndGlyphs">Clock time [hh:mm]</text>
</svg></body></html>
